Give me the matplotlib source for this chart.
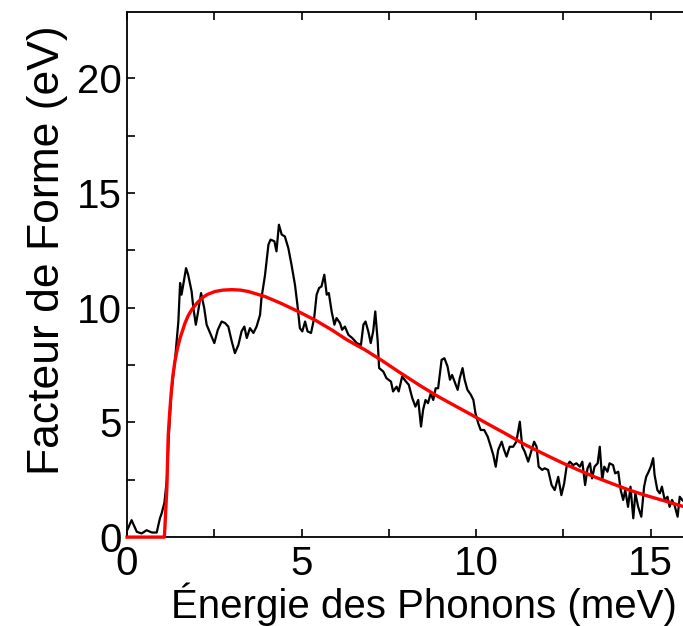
import numpy as np
import matplotlib.pyplot as plt
from matplotlib.ticker import MultipleLocator

plt.rcParams['font.family'] = ['Liberation Sans', 'DejaVu Sans']

# measured form factor (noisy black trace)
energie_mes = [0.02, 0.13, 0.28, 0.42, 0.56, 0.71, 0.85, 0.94, 0.99, 1.07,
               1.14, 1.20, 1.27, 1.37, 1.47, 1.52, 1.56, 1.61, 1.69, 1.75,
               1.85, 1.90, 1.97, 2.03, 2.12, 2.21, 2.28, 2.40, 2.50, 2.60,
               2.71, 2.81, 2.90, 3.00, 3.09, 3.19, 3.28, 3.36, 3.43, 3.52,
               3.62, 3.71, 3.81, 3.85, 3.95, 4.05, 4.11, 4.22, 4.28, 4.35,
               4.43, 4.52, 4.62, 4.71, 4.81, 4.88, 4.95, 5.02, 5.10, 5.17,
               5.27, 5.36, 5.43, 5.50, 5.57, 5.65, 5.72, 5.78, 5.86, 5.94,
               6.00, 6.10, 6.16, 6.24, 6.34, 6.45, 6.58, 6.70, 6.77, 6.83,
               6.91, 6.98, 7.05, 7.11, 7.18, 7.22, 7.34, 7.43, 7.56, 7.62,
               7.72, 7.78, 7.88, 7.98, 8.07, 8.17, 8.26, 8.34, 8.42, 8.48,
               8.55, 8.62, 8.70, 8.77, 8.84, 8.91, 9.01, 9.09, 9.18, 9.25,
               9.31, 9.38, 9.47, 9.53, 9.61, 9.67, 9.75, 9.85, 9.92, 9.98,
               10.06, 10.13, 10.23, 10.33, 10.42, 10.49, 10.56, 10.63, 10.73, 10.80,
               10.87, 10.96, 11.06, 11.15, 11.25, 11.32, 11.39, 11.49, 11.59, 11.66,
               11.73, 11.79, 11.89, 11.96, 12.06, 12.16, 12.25, 12.35, 12.44, 12.52,
               12.59, 12.68, 12.78, 12.87, 12.97, 13.04, 13.12, 13.19, 13.26, 13.32,
               13.39, 13.48, 13.54, 13.61, 13.67, 13.76, 13.82, 13.92, 13.98, 14.07,
               14.14, 14.21, 14.27, 14.35, 14.42, 14.50, 14.56, 14.64, 14.73, 14.81,
               14.87, 14.94, 15.00, 15.07, 15.11, 15.19, 15.26, 15.32, 15.40, 15.48,
               15.54, 15.61, 15.68, 15.77, 15.83, 15.90, 16.00]
facteur_mes = [0.35, 0.74, 0.23, 0.16, 0.30, 0.20, 0.20, 0.81, 1.03, 1.5,
               2.5, 4.5, 6.3, 7.66, 9.40, 11.08, 10.57, 11.00, 11.73, 11.44,
               10.71, 9.99, 9.26, 9.78, 10.64, 9.99, 9.26, 8.82, 8.46, 9.04,
               9.40, 9.33, 9.18, 8.53, 8.02, 8.38, 8.97, 9.18, 8.68, 9.11,
               8.90, 9.18, 9.69, 10.42, 11.40, 12.75, 12.97, 12.90, 12.46, 13.62,
               13.19, 13.11, 12.60, 11.88, 11.00, 10.13, 9.11, 8.97, 9.40, 8.97,
               8.90, 9.55, 10.57, 10.86, 10.93, 11.44, 10.57, 10.64, 9.84, 9.26,
               9.55, 9.33, 9.04, 9.18, 8.82, 8.68, 8.46, 8.38, 9.26, 9.40,
               8.97, 8.46, 8.97, 9.84, 8.53, 7.37, 7.22, 6.93, 6.78, 6.35,
               6.56, 6.35, 7.00, 6.80, 6.64, 6.06, 5.69, 5.98, 4.82, 5.55,
               5.98, 5.84, 6.27, 5.98, 6.49, 6.49, 7.73, 7.80, 7.44, 6.86,
               7.07, 6.78, 6.42, 6.93, 7.37, 6.86, 6.42, 6.20, 5.98, 5.40,
               4.96, 4.67, 4.67, 4.38, 3.94, 3.58, 3.07, 3.80, 4.16, 3.80,
               3.51, 3.94, 3.94, 4.16, 5.03, 3.94, 3.73, 3.29, 3.80, 4.16,
               3.94, 3.07, 2.93, 3.00, 2.93, 2.27, 2.05, 2.63, 1.83, 2.34,
               3.07, 3.29, 3.14, 3.22, 3.07, 3.29, 2.27, 3.00, 3.22, 2.56,
               3.07, 3.22, 3.94, 2.49, 3.07, 2.85, 3.22, 3.14, 2.78, 2.85,
               2.05, 1.62, 2.05, 1.32, 2.20, 0.82, 1.91, 1.32, 0.89, 2.20,
               2.63, 2.85, 3.07, 3.44, 2.71, 2.05, 1.91, 2.20, 1.62, 1.76,
               1.32, 1.62, 1.40, 0.89, 1.76, 1.62, 1.50]

# fitted model (red curve)
energie_fit = [0.0, 1.07, 1.10, 1.14, 1.18, 1.22, 1.26, 1.31, 1.37, 1.44,
               1.52, 1.66, 1.75, 1.85, 2.00, 2.14, 2.30, 2.52, 2.75, 3.00,
               3.25, 3.47, 3.95, 4.40, 4.90, 5.40, 5.86, 6.30, 6.81, 7.30,
               7.77, 8.40, 8.91, 9.40, 9.87, 10.35, 10.82, 11.40, 12.00, 12.45,
               12.92, 13.40, 13.88, 14.35, 14.83, 15.35, 15.90, 16.20]
facteur_fit = [0.0, 0.0, 0.9, 2.13, 4.45, 5.4, 6.2, 7.0, 7.66, 8.2,
               8.68, 9.33, 9.65, 9.91, 10.2, 10.42, 10.58, 10.71, 10.77, 10.79,
               10.77, 10.71, 10.49, 10.2, 9.84, 9.45, 9.04, 8.6, 8.17, 7.7,
               7.22, 6.6, 6.13, 5.72, 5.33, 4.92, 4.53, 4.03, 3.58, 3.25,
               2.93, 2.62, 2.34, 2.07, 1.83, 1.6, 1.35, 1.25]

fig = plt.figure(figsize=(6.83, 6.26), dpi=100)
# axes run past the right edge, so the right spine is off the canvas
ax = fig.add_axes([0.186, 0.142, 0.869, 0.839])

ax.plot(energie_mes, facteur_mes, color='black', linewidth=1.6, zorder=3)
ax.plot(energie_fit, facteur_fit, color='red', linewidth=2.4, zorder=4,
        clip_on=False)

ax.set_xlim(0, 17)
ax.set_ylim(0, 22.9)

ax.xaxis.set_major_locator(MultipleLocator(5))
ax.xaxis.set_minor_locator(MultipleLocator(2.5))
ax.set_yticks([0, 5, 10, 15, 20])
ax.set_yticks([2.5, 7.5, 12.5, 17.5], minor=True)
ax.tick_params(which='both', direction='in', length=6, width=1.2,
               top=True, right=True, labelsize=29)
ax.tick_params(axis='x', pad=6)
ax.tick_params(axis='y', pad=4)

for sp in ax.spines.values():
    sp.set_linewidth(1.3)

ax.set_xlabel('Énergie des Phonons (meV)', fontsize=29, labelpad=-1)
ax.set_ylabel('Facteur de Forme (eV)', fontsize=32)
ax.yaxis.set_label_coords(-0.10, 0.547)

plt.savefig('out.png', dpi=100)
